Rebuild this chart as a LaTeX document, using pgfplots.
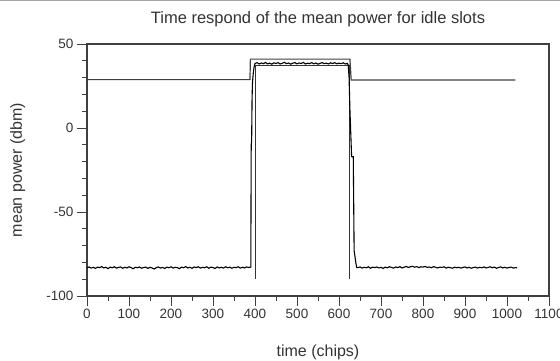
\documentclass[border=0pt]{standalone}
\usepackage{pgfplots}
\pgfplotsset{compat=1.18}
\usepackage{fontspec}
\setmainfont{Liberation Sans}
\begin{document}
\begin{tikzpicture}
\path[use as bounding box] (-87pt,-64pt) rectangle (473pt,296pt);
\draw[black!35, line width=1pt] (-87pt,295.5pt) -- (473pt,295.5pt);
\begin{axis}[
  name=ax,
  at={(0pt,0pt)}, anchor=south west,
  scale only axis, width=462pt, height=252pt,
  xmin=0, xmax=1100, ymin=-100, ymax=50,
  xtick={0,100,...,1100}, minor x tick num=1,
  ytick={-100,-50,0,50}, minor y tick num=4,
  tick align=outside,
  major tick length=10pt, minor tick length=5pt,
  xtick pos=bottom, ytick pos=left,
  axis line style={black!75, line width=1.1pt},
  every tick/.style={black!75, line width=0.9pt},
  tick label style={font=\fontsize{13.5}{16}\selectfont, text=black!80},
  /pgf/number format/assume math mode=true,
  /pgf/number format/1000 sep={},
  clip=false,
]
% upper envelope
\addplot[black!75, line width=1.2pt] coordinates {
(0,28.8) (388,28.8) (389,41) (626,41) (629,28.6) (1020,28.6)
};
% lower edges
\addplot[black!80, line width=1.1pt] coordinates {
(401,-90) (401,37) (624,37) (624,-90)
};
% mean power
\addplot[black, line width=1.1pt] coordinates {
(0,-83.2) (5,-82.7) (10,-83.4) (15,-82.9) (20,-83.6) (25,-82.8) (30,-83.1) (35,-82.5)
(40,-83.3) (45,-82.9) (50,-83.7) (55,-82.8) (60,-83.2) (65,-82.6) (70,-83.4) (75,-83.0)
(80,-82.7) (85,-83.5) (90,-82.9) (95,-83.3) (100,-82.6) (105,-83.1) (110,-83.8) (115,-82.9)
(120,-83.2) (125,-82.7) (130,-83.5) (135,-83.0) (140,-82.8) (145,-83.6) (150,-82.9) (155,-83.3)
(160,-83.9) (165,-83.1) (170,-82.7) (175,-83.4) (180,-83.0) (185,-83.6) (190,-82.8) (195,-83.2)
(200,-82.6) (205,-83.4) (210,-82.9) (215,-83.1) (220,-83.7) (225,-82.8) (230,-83.2) (235,-82.5)
(240,-83.3) (245,-82.9) (250,-83.5) (255,-82.7) (260,-83.1) (265,-82.6) (270,-83.4) (275,-82.9)
(280,-83.2) (285,-82.6) (290,-83.5) (295,-82.8) (300,-83.1) (305,-83.6) (310,-82.7) (315,-83.3)
(320,-82.9) (325,-83.4) (330,-82.6) (335,-83.2) (340,-82.8) (345,-83.5) (350,-82.9) (355,-83.1)
(360,-82.6) (365,-83.4) (370,-82.9) (375,-83.3) (380,-82.7) (385,-83.0) (390,-82.8)
(391,-10) (392,-8) (393,17) (394,27) (396,33) (398,36.5)
(400,38.4) (405,38.9) (410,38.1) (415,38.7) (420,38.3) (425,39.0) (430,38.2) (435,38.6)
(440,38.0) (445,38.8) (450,38.4) (455,38.9) (460,38.1) (465,38.5) (470,39.1) (475,38.3)
(480,38.7) (485,38.0) (490,38.6) (495,38.9) (500,38.2) (505,38.7) (510,38.4) (515,39.0)
(520,38.1) (525,38.6) (530,38.3) (535,38.9) (540,38.2) (545,38.7) (550,38.0) (555,38.5)
(560,38.9) (565,38.3) (570,38.6) (575,38.1) (580,38.8) (585,38.4) (590,38.9) (595,38.2)
(600,38.6) (605,38.3) (610,38.8) (615,38.1) (620,38.5) (622,37.5)
(624,30) (626,11) (630,-17) (634,-17) (636,-73) (640,-80) (642,-83)
(645,-83.1) (650,-82.7) (655,-83.4) (660,-82.9) (665,-83.2) (670,-82.6) (675,-83.5) (680,-82.8)
(685,-83.1) (690,-82.7) (695,-83.3) (700,-82.9) (705,-83.6) (710,-82.8) (715,-83.2) (720,-82.6)
(725,-83.0) (730,-83.4) (735,-82.7) (740,-83.1) (745,-82.5) (750,-83.3) (755,-82.9) (760,-82.4)
(765,-83.0) (770,-82.6) (775,-82.3) (780,-82.9) (785,-82.5) (790,-83.1) (795,-82.6) (800,-82.8)
(805,-82.4) (810,-83.0) (815,-82.7) (820,-83.2) (825,-82.5) (830,-82.9) (835,-83.3) (840,-82.8)
(845,-83.0) (850,-82.6) (855,-83.4) (860,-82.9) (865,-83.1) (870,-83.5) (875,-82.8) (880,-83.2)
(885,-82.9) (890,-83.4) (895,-83.0) (900,-82.7) (905,-83.3) (910,-82.9) (915,-83.5) (920,-83.0)
(925,-82.8) (930,-83.4) (935,-82.9) (940,-83.2) (945,-82.7) (950,-83.3) (955,-83.0) (960,-82.6)
(965,-83.2) (970,-82.8) (975,-83.5) (980,-83.0) (985,-82.7) (990,-83.3) (995,-82.9) (1000,-83.4)
(1005,-83.0) (1010,-82.8) (1015,-83.4) (1020,-83.1) (1024,-83.2)
};
\end{axis}
\node[anchor=base, font=\fontsize{16.5}{19}\selectfont, text=black!80] at (231pt,273pt) {Time respond of the mean power for idle slots};
\node[anchor=base, font=\fontsize{16}{19}\selectfont, text=black!80] at (231pt,-60pt) {time (chips)};
\node[anchor=base, rotate=90, font=\fontsize{16}{19}\selectfont, text=black!80] at (-65pt,126pt) {mean power (dbm)};
\end{tikzpicture}
\end{document}
